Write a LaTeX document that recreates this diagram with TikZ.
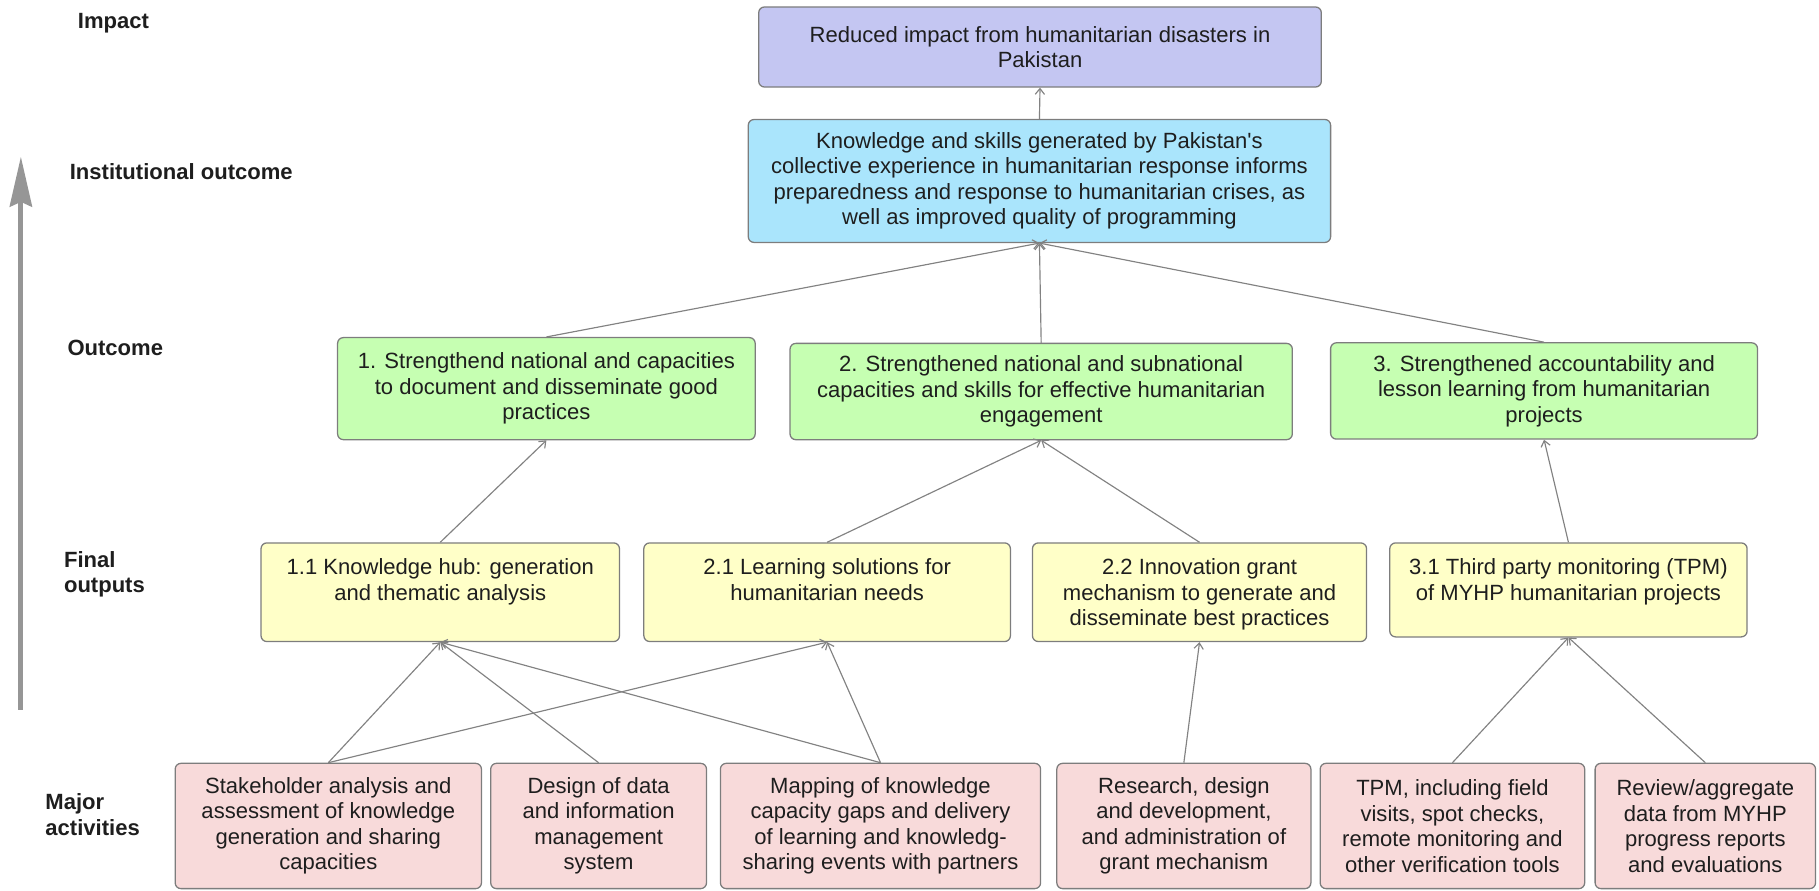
\documentclass[tikz,border=0pt]{standalone}
\usepackage{fontspec}
\setmainfont{Liberation Sans}
\usetikzlibrary{arrows.meta,calc}
\newcommand\straightq{\XeTeXglyph\XeTeXcharglyph"27\relax}
\definecolor{impactc}{RGB}{196,198,242}
\definecolor{instc}{RGB}{170,229,252}
\definecolor{outc}{RGB}{198,255,178}
\definecolor{finc}{RGB}{255,255,200}
\definecolor{actc}{RGB}{248,218,218}
\definecolor{bordc}{RGB}{125,125,125}
\definecolor{linec}{RGB}{130,130,130}
\definecolor{bigc}{RGB}{150,150,150}
\definecolor{txtc}{RGB}{30,30,30}
\tikzset{
  every node/.style={font=\fontsize{19}{22}\selectfont, text=txtc},
  box/.style={draw=bordc, line width=1.1pt, rounded corners=5pt, align=center, inner sep=0pt},
  btext/.style={align=center, inner sep=0pt},
  lab/.style={font=\fontsize{19}{22}\selectfont\bfseries, align=left, inner sep=0pt, anchor=west},
  conn/.style={draw=linec, line width=1pt, -{Straight Barb[length=5pt,width=8pt]}},
}
\begin{document}
\begin{tikzpicture}[x=1pt,y=-1pt]
\useasboundingbox (0,0) rectangle (1568,768);

% level labels
\node[lab] (limp) at (67,20) {Impact};
\node[lab] (linst) at (60,148) {Institutional outcome};
\node[lab] (lout) at (58,300) {Outcome};
\node[lab] (lfin) at (55,495) {Final\\outputs};
\node[lab] (lact) at (39,702) {Major\\activities};

% big arrow
\coordinate (bigbot) at (18,612);
\coordinate (bigtop) at (18,135);
\draw[bigc, line width=4.5pt, -{Stealth[length=43pt,width=19pt,inset=4pt]}] (bigbot) -- (bigtop);

% impact and institutional outcome
\node[box, fill=impactc, minimum width=485, minimum height=69] (imp) at (896.5,40.5)
  {Reduced impact from humanitarian disasters in\\Pakistan};
\node[box, fill=instc, minimum width=502, minimum height=106] (inst) at (896,156)
  {Knowledge and skills generated by Pakistan\straightq s\\collective experience in humanitarian response informs\\preparedness and response to humanitarian crises, as\\well as improved quality of programming};

% outcomes
\node[box, fill=outc, minimum width=360, minimum height=88] (o1) at (471,335)
  {1. Strengthend national and capacities\\to document and disseminate good\\practices};
\node[box, fill=outc, minimum width=433, minimum height=83] (o2) at (897.5,337.5)
  {2. Strengthened national and subnational\\capacities and skills for effective humanitarian\\engagement};
\node[box, fill=outc, minimum width=368, minimum height=83] (o3) at (1331,337)
  {3. Strengthened accountability and\\lesson learning from humanitarian\\projects};

% final outputs
\node[box, fill=finc, minimum width=309, minimum height=85] (f11) at (379.5,510.5) {};
\node[box, fill=finc, minimum width=316, minimum height=85] (f21) at (713,510.5) {};
\node[box, fill=finc, minimum width=288, minimum height=85] (f22) at (1034,510.5) {};
\node[box, fill=finc, minimum width=308, minimum height=81] (f31) at (1352,508.5) {};
\node[btext, anchor=north] (t11) at ([yshift=-14pt]f11.north) {1.1 Knowledge hub: generation\\and thematic analysis};
\node[btext, anchor=north] (t21) at ([yshift=-14pt]f21.north) {2.1 Learning solutions for\\humanitarian needs};
\node[btext, anchor=north] (t22) at ([yshift=-14pt]f22.north) {2.2 Innovation grant\\mechanism to generate and\\disseminate best practices};
\node[btext, anchor=north] (t31) at ([yshift=-14pt]f31.north) {3.1 Third party monitoring (TPM)\\of MYHP humanitarian projects};

% major activities
\node[box, fill=actc, minimum width=264, minimum height=108] (a1) at (283,712)
  {Stakeholder analysis and\\assessment of knowledge\\generation and sharing\\capacities};
\node[box, fill=actc, minimum width=186, minimum height=108] (a2) at (516,712)
  {Design of data\\and information\\management\\system};
\node[box, fill=actc, minimum width=276, minimum height=108] (a3) at (759,712)
  {Mapping of knowledge\\capacity gaps and delivery\\of learning and knowledg-\\sharing events with partners};
\node[box, fill=actc, minimum width=219, minimum height=108] (a4) at (1020.5,712)
  {Research, design\\and development,\\and administration of\\grant mechanism};
\node[box, fill=actc, minimum width=228, minimum height=108] (a5) at (1252,712)
  {TPM, including field\\visits, spot checks,\\remote monitoring and\\other verification tools};
\node[box, fill=actc, minimum width=190, minimum height=108] (a6) at (1470,712)
  {Review/aggregate\\data from MYHP\\progress reports\\and evaluations};

% connectors
\draw[conn] (inst.north) -- (imp.south);
\draw[conn] (o1.north) -- (inst.south);
\draw[conn] (o2.north) -- (inst.south);
\draw[conn] (o3.north) -- (inst.south);
\draw[conn] (f11.north) -- (o1.south);
\draw[conn] (f21.north) -- (o2.south);
\draw[conn] (f22.north) -- (o2.south);
\draw[conn] (f31.north) -- (o3.south);
\draw[conn] (a1.north) -- (f11.south);
\draw[conn] (a1.north) -- (f21.south);
\draw[conn] (a2.north) -- (f11.south);
\draw[conn] (a3.north) -- (f11.south);
\draw[conn] (a3.north) -- (f21.south);
\draw[conn] (a4.north) -- (f22.south);
\draw[conn] (a5.north) -- (f31.south);
\draw[conn] (a6.north) -- (f31.south);
\end{tikzpicture}
\end{document}
